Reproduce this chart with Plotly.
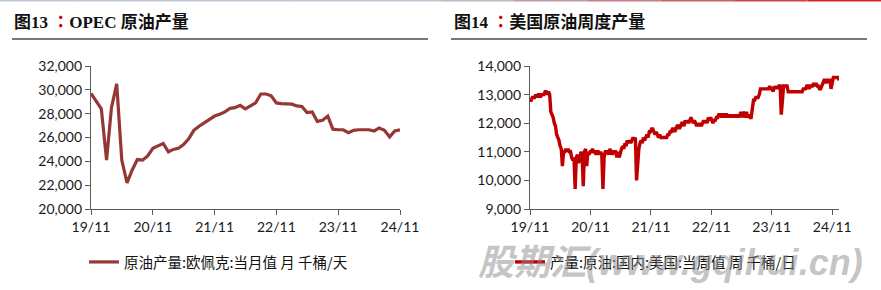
import pandas as pd
import plotly.graph_objects as go

W, H = 881, 290

# ---------------- data ----------------
# OPEC crude output, monthly, thousand barrels/day (Nov 2019 .. Nov 2024)
opec_start = "2019-11-01"
opec_values = [
    29700, 29000, 28400, 24100, 28500, 30500, 24100, 22200, 23250, 24150, 24100, 24450,
    25100, 25300, 25500, 24800, 25000, 25100, 25400, 25900, 26600, 26950, 27250, 27500,
    27800, 27950, 28150, 28450, 28500, 28700, 28400, 28650, 28900, 29650, 29650, 29500,
    28900, 28850, 28800, 28800, 28650, 28600, 28100, 28150, 27350, 27450, 27800, 26700,
    26650, 26650, 26400, 26600, 26650, 26650, 26650, 26550, 26800, 26600, 26050, 26550,
    26650,
]
opec_ticks = ["2019-11-01", "2020-11-01", "2021-11-01", "2022-11-01", "2023-11-01", "2024-11-01"]
tick_text = ["19/11", "20/11", "21/11", "22/11", "23/11", "24/11"]

# US crude output, weekly, thousand barrels/day (from Nov 2019)
us_start = "2019-11-01"
us_2019_20 = [12800, 12800, 12900, 12900, 12900, 13000, 12900, 13000, 13000, 12900, 13000, 13000,
              13000, 13100, 13100, 13000, 13100, 13000,
              12400, 12300, 12200, 12000, 11900, 11600, 11500, 11400, 11200, 11100, 10500, 11000,
              11000, 11100, 11000, 11100, 11000, 11000, 10800,
              10700, 10800, 9700, 10800, 10900, 10600, 10900, 11000, 10900, 9800, 11000, 11100,
              10500, 11000, 10900, 11000]
us_2020_21 = [11000, 11100, 11000, 11000, 10900, 11000, 11000, 10900, 11000, 10900,
              9700, 10800, 11000,
              11000, 11000, 10900, 11100, 11000, 10900, 11000, 11000, 11000, 10800,
              11000, 10800, 11000, 11100, 11200, 11100, 11300, 11200, 11400, 11300, 11400, 11300,
              11400, 11500, 11400, 11500,
              10000, 10600, 11100,
              11300, 11400, 11300, 11500, 11400, 11500, 11600, 11500, 11700, 11700, 11800, 11800]
us_2021_22 = [11700, 11600, 11700, 11600, 11500, 11600, 11500, 11500, 11500, 11500, 11500, 11500,
              11600, 11600, 11700, 11700, 11800, 11800, 11700, 11800, 11900, 11900, 11800, 11900,
              12000, 12000, 11900, 12100, 12000, 12100, 12000, 12100, 12200, 12100, 12000, 12100,
              12000, 11900, 12000, 11900, 12000, 11900, 12000,
              12100, 12000, 12100, 12000, 12200, 12100, 12200, 12100, 12000, 12100, 12100, 12200]
us_2022_23 = [12200, 12300, 12300, 12200, 12300, 12300, 12200, 12300, 12300, 12200, 12300, 12200,
              12300, 12200, 12300, 12200, 12300, 12200, 12300, 12200, 12400, 12200, 12400, 12300,
              12200, 12400, 12200, 12300, 12200, 12200,
              12600, 12800, 12800, 12900, 12900, 12900, 13000, 13200, 13200, 13200, 13200, 13200,
              13200, 13200, 13200, 13300, 13200, 13200, 13100, 13300]
us_2023_24 = [13200, 13300, 13200, 13300, 13300,
              12300, 13000, 13300, 13300, 13300, 13300, 13100,
              13100, 13100, 13100, 13100, 13100, 13100, 13100, 13100, 13100, 13100, 13100, 13100,
              13200, 13200, 13200, 13300, 13300, 13200, 13300, 13300, 13300, 13400, 13300, 13400,
              13300, 13300, 13200, 13200, 13300, 13400, 13500, 13500, 13400, 13500, 13500, 13500,
              13200, 13400, 13600, 13600, 13600, 13600, 13600, 13500]
us_values = us_2019_20 + us_2020_21 + us_2021_22 + us_2022_23 + us_2023_24

opec_dates = pd.date_range(opec_start, periods=len(opec_values), freq="MS")
us_dates = pd.date_range(us_start, periods=len(us_values), freq="7D")

# ---------------- styles ----------------
C_OPEC = "#953735"
C_US = "#C00000"
AXC = "#5a5a5a"
TICKFONT = dict(family="Lato, Liberation Sans, sans-serif", size=14, color="#1a1a1a")
CJK = "Noto Sans CJK SC, sans-serif"
TITLEFONT = "Liberation Serif, Noto Sans CJK SC, serif"

fig = go.Figure()
fig.add_trace(go.Scatter(x=opec_dates, y=opec_values, mode="lines",
                         line=dict(color=C_OPEC, width=3.2),
                         name="原油产量:欧佩克:当月值 月 千桶/天",
                         xaxis="x", yaxis="y", legend="legend"))
fig.add_trace(go.Scatter(x=us_dates, y=us_values, mode="lines",
                         line=dict(color=C_US, width=3.4),
                         name="产量:原油:国内:美国:当周值 周 千桶/日",
                         xaxis="x2", yaxis="y2", legend="legend2"))

ydom = [1 - 209 / H, 1 - 66 / H]

def xa(dom, rng):
    return dict(domain=dom, range=rng, type="date", tickvals=opec_ticks, ticktext=tick_text,
                showgrid=False, zeroline=False, showline=True, linecolor=AXC, linewidth=1.3,
                ticks="outside", ticklen=5, tickcolor=AXC, tickwidth=1.3, tickfont=TICKFONT,
                automargin=False)

def ya(dom, rng, dt, anchor):
    return dict(domain=dom, range=rng, dtick=dt, tickformat=",", anchor=anchor,
                showgrid=False, zeroline=False, showline=True, linecolor=AXC, linewidth=1.3,
                ticks="outside", ticklen=5, tickcolor=AXC, tickwidth=1.3, tickfont=TICKFONT,
                automargin=False)

fig.update_layout(
    width=W, height=H, margin=dict(l=0, r=0, t=0, b=0, autoexpand=False),
    paper_bgcolor="white", plot_bgcolor="white",
    xaxis=dict(**xa([91 / W, 400 / W], ["2019-11-01", "2024-11-01"]), anchor="y"),
    yaxis=ya(ydom, [20000, 32000], 2000, "x"),
    xaxis2=dict(**xa([530 / W, 839 / W], ["2019-11-01", "2024-12-12"]), anchor="y2"),
    yaxis2=ya(ydom, [9000, 14000], 1000, "x2"),
    legend=dict(x=84 / W, y=1 - 262 / H, xanchor="left", yanchor="middle",
                bgcolor="rgba(0,0,0,0)", borderwidth=0, tracegroupgap=0,
                font=dict(family=CJK, size=14.5, color="#111")),
    legend2=dict(x=510 / W, y=1 - 262 / H, xanchor="left", yanchor="middle",
                 bgcolor="rgba(0,0,0,0)", borderwidth=0,
                 font=dict(family=CJK, size=14.5, color="#111")),
    showlegend=True,
)

# titles
COLON = "<span style='color:#d00000;font-family:\"Noto Sans CJK TC\"'>：</span>"
for x0, pre, post in [(12, "图13 ", "OPEC 原油产量"),
                      (452, "图14 ", "美国原油周度产量")]:
    fig.add_annotation(x=x0 / W, y=1 - 20 / H, xref="paper", yref="paper",
                       xanchor="left", yanchor="middle", showarrow=False,
                       text="<b>" + pre + COLON + post + "</b>",
                       font=dict(family=TITLEFONT, size=17, color="#111"))

# rules under titles
for x0, x1 in [(12, 428), (451, 867)]:
    fig.add_shape(type="line", xref="paper", yref="paper",
                  x0=x0 / W, x1=x1 / W, y0=1 - 39 / H, y1=1 - 39 / H,
                  line=dict(color="#4a4a4a", width=1.3))

# thin top border (blue-grey to red)
segs = 12
for i in range(segs):
    t = i / (segs - 1)
    if t < 0.5:
        r, g, b = 190, 198, 214
    else:
        u = (t - 0.5) / 0.5
        r = int(190 + u * (210 - 190)); g = int(198 - u * (198 - 40)); b = int(214 - u * (214 - 40))
    fig.add_shape(type="line", xref="paper", yref="paper",
                  x0=i / segs, x1=(i + 1) / segs, y0=1 - 0.5 / H, y1=1 - 0.5 / H,
                  line=dict(color=f"rgb({r},{g},{b})", width=2))

# watermark
fig.add_annotation(x=476 / W, y=1 - 262 / H, xref="paper", yref="paper",
                   xanchor="left", yanchor="middle", showarrow=False,
                   text="<b><i>股期汇(www.gqihui.cn)</i></b>",
                   font=dict(family="Liberation Sans, Noto Sans CJK SC, sans-serif", size=36,
                             color="rgba(140,140,140,0.5)"))

fig.write_html("out.html")
